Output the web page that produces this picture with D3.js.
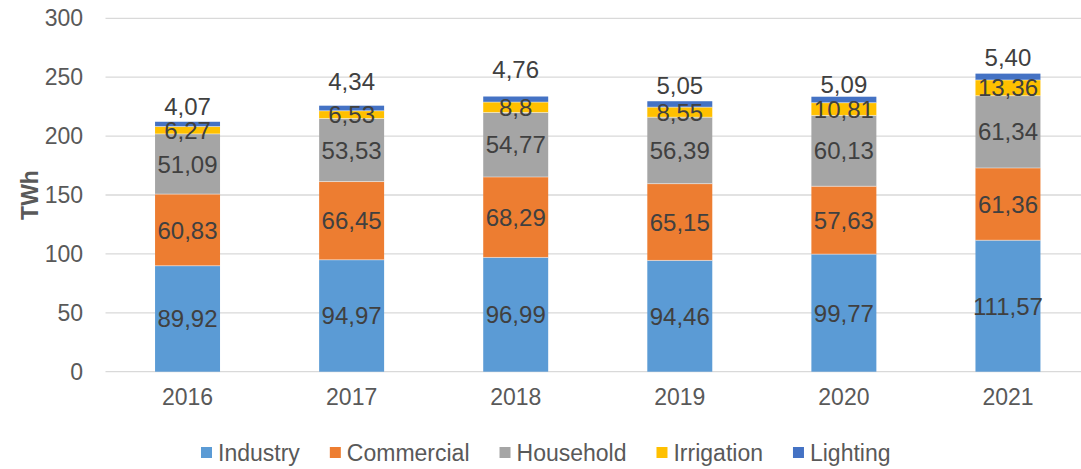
<!DOCTYPE html>
<html><head><meta charset="utf-8">
<script src="https://cdn.jsdelivr.net/npm/d3@7"></script>
<style>
html,body{margin:0;padding:0;background:#fff;}
svg{display:block;font-family:"Liberation Sans",Arial,sans-serif;}
</style></head>
<body><svg id="chart" width="1081" height="469"></svg>
<script>
const years = ["2016","2017","2018","2019","2020","2021"];
const seriesNames = ["Industry","Commercial","Household","Irrigation","Lighting"];
const industry   = [89.92, 94.97, 96.99, 94.46, 99.77, 111.57];
const commercial = [60.83, 66.45, 68.29, 65.15, 57.63, 61.36];
const household  = [51.09, 53.53, 54.77, 56.39, 60.13, 61.34];
const irrigation = [6.27, 6.53, 8.8, 8.55, 10.81, 13.36];
const lighting   = [4.07, 4.34, 4.76, 5.05, 5.09, 5.40];
const industryLabels   = ["89,92","94,97","96,99","94,46","99,77","111,57"];
const commercialLabels = ["60,83","66,45","68,29","65,15","57,63","61,36"];
const householdLabels  = ["51,09","53,53","54,77","56,39","60,13","61,34"];
const irrigationLabels = ["6,27","6,53","8,8","8,55","10,81","13,36"];
const lightingLabels   = ["4,07","4,34","4,76","5,05","5,09","5,40"];
const yTicks = [0,50,100,150,200,250,300];
const colors = ["#5B9BD5","#ED7D31","#A5A5A5","#FFC000","#4472C4"];
// layout only: how far (px) each top label sits above its bar (labels were hand-placed)
const topLabelLift = [7,16,19,7,4,8];

const seriesValues = [industry, commercial, household, irrigation, lighting];
const seriesLabels = [industryLabels, commercialLabels, householdLabels, irrigationLabels, lightingLabels];

const svg = d3.select("#chart");
const x = d3.scaleBand().domain(years).range([105.5,1090]).paddingInner(0.604).paddingOuter(0.302);
const y = d3.scaleLinear().domain([0,300]).range([371.7,18.3]);

// gridlines
svg.append("g").selectAll("line").data(yTicks).join("line")
  .attr("x1",105.5).attr("x2",1081)
  .attr("y1",d=>y(d)).attr("y2",d=>y(d))
  .attr("stroke","#d9d9d9").attr("stroke-width",1.3);

// y axis labels
const yAxis = d3.axisLeft(y).tickValues(yTicks).tickSize(0).tickPadding(0).tickFormat(d3.format("d"));
const ya = svg.append("g").attr("transform","translate(83,0)").call(yAxis);
ya.select(".domain").remove();
ya.selectAll("text").attr("font-size",23).attr("fill","#595959").attr("font-family","Liberation Sans, Arial, sans-serif");

// x axis labels
const xAxis = d3.axisBottom(x).tickSize(0).tickPadding(0);
const xa = svg.append("g").attr("transform","translate(0,389)").call(xAxis);
xa.select(".domain").remove();
xa.selectAll("text").attr("font-size",23).attr("fill","#595959").attr("font-family","Liberation Sans, Arial, sans-serif");

// y title
svg.append("text").attr("transform","translate(38,195) rotate(-90)")
  .attr("text-anchor","middle").attr("font-size",23).attr("font-weight","bold")
  .attr("fill","#595959").text("TWh");

// stacked data
const rows = years.map((yr,i)=>{const o={year:yr}; seriesNames.forEach((s,k)=>o[s]=seriesValues[k][i]); return o;});
const stacked = d3.stack().keys(seriesNames)(rows);

const gBars = svg.append("g");
stacked.forEach((layer,k)=>{
  gBars.append("g").attr("fill",colors[k]).selectAll("rect").data(layer).join("rect")
    .attr("x",d=>x(d.data.year)).attr("width",x.bandwidth())
    .attr("y",d=>y(d[1])).attr("height",d=>y(d[0])-y(d[1]));
});
stacked.forEach((layer,k)=>{
  if(k===0) return;
  gBars.append("g").selectAll("line").data(layer).join("line")
    .attr("x1",d=>x(d.data.year)).attr("x2",d=>x(d.data.year)+x.bandwidth())
    .attr("y1",d=>y(d[0])).attr("y2",d=>y(d[0]))
    .attr("stroke","#ffffff").attr("stroke-width",0.8).attr("stroke-opacity",0.6);
});

// labels
const gLab = svg.append("g").attr("font-size",24).attr("fill","#404040").attr("text-anchor","middle");
stacked.forEach((layer,k)=>{
  gLab.append("g").selectAll("text").data(layer).join("text")
    .attr("x",d=>x(d.data.year)+x.bandwidth()/2)
    .attr("y",(d,i)=> k===4 ? y(d[1]) - topLabelLift[i] : (y(d[0])+y(d[1]))/2 + 8.6)
    .text((d,i)=>seriesLabels[k][i]);
});

// legend
const leg = svg.append("g").attr("font-size",23).attr("fill","#595959");
let lx = 201;
seriesNames.forEach((s,k)=>{
  leg.append("rect").attr("x",lx).attr("y",447).attr("width",11).attr("height",11).attr("fill",colors[k]);
  const t = leg.append("text").attr("x",lx+17).attr("y",461).text(s);
  const w = t.node().getComputedTextLength();
  lx = lx + 17 + w + 30;
});
</script></body></html>
